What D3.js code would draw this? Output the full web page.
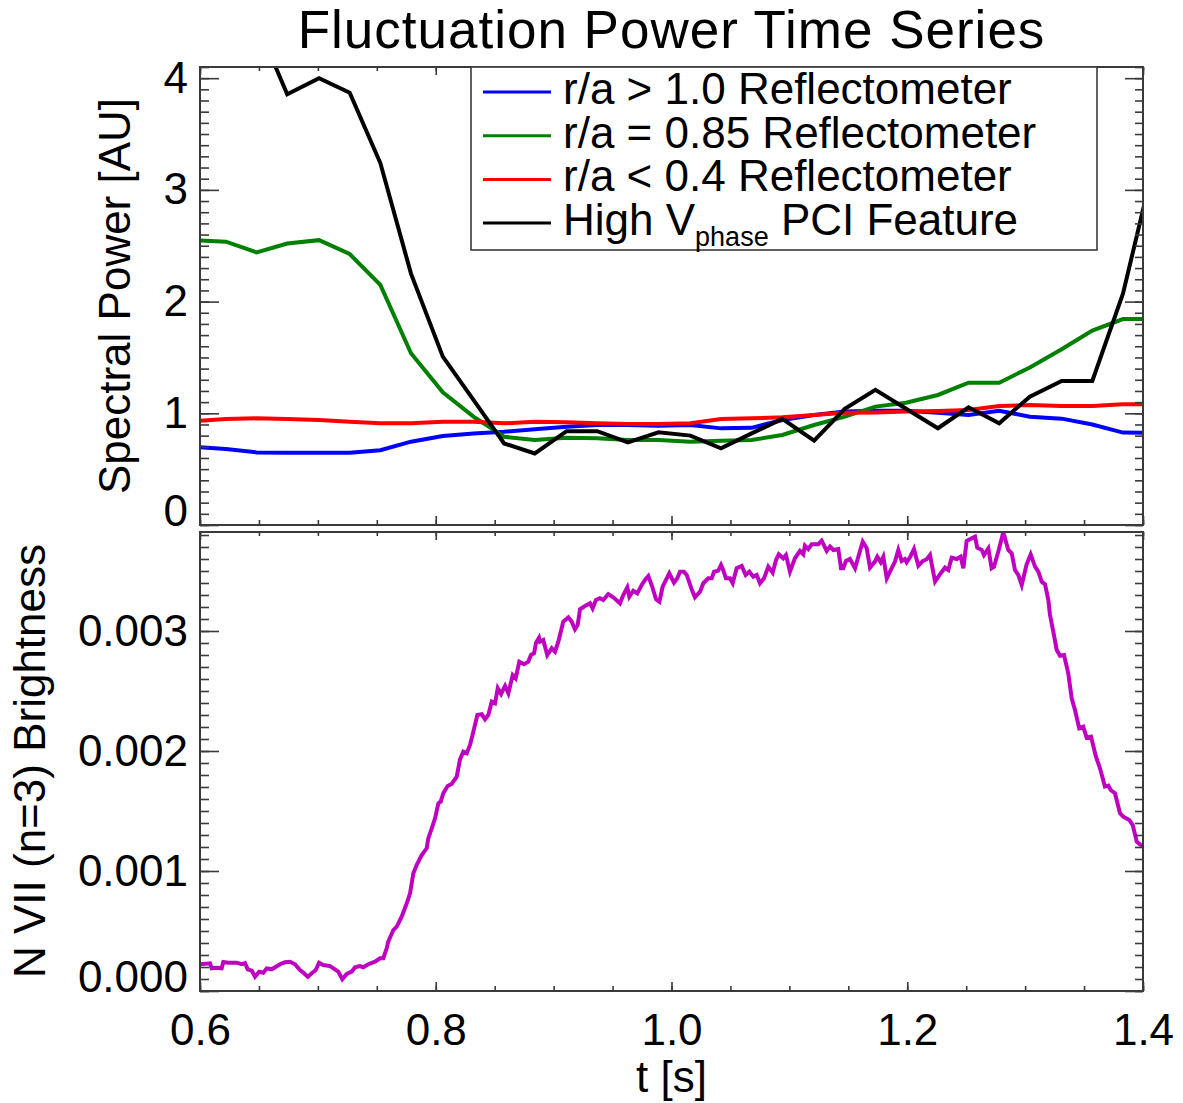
<!DOCTYPE html>
<html>
<head>
<meta charset="utf-8">
<script src="https://d3js.org/d3.v7.min.js"></script>
<style>
  body { margin: 0; background: #fff; }
  text { font-family: "Liberation Sans", Arial, Helvetica, sans-serif; }
</style>
</head>
<body>
<script>
// spectra time base [s]
var times = [0.596, 0.622, 0.648, 0.674, 0.701, 0.727, 0.753, 0.779, 0.806, 0.832,
             0.858, 0.884, 0.911, 0.937, 0.963, 0.989, 1.016, 1.042, 1.068, 1.094,
             1.121, 1.147, 1.173, 1.199, 1.226, 1.252, 1.278, 1.304, 1.331, 1.357,
             1.383, 1.409];

// spectral power [AU]
var reflEdge = [0.70, 0.68, 0.65, 0.647, 0.647, 0.647, 0.67, 0.746, 0.797, 0.82,
                0.835, 0.857, 0.88, 0.895, 0.895, 0.889, 0.895, 0.865, 0.87, 0.94,
                0.985, 1.015, 1.023, 1.023, 1.005, 0.985, 1.023, 0.97, 0.952, 0.90,
                0.827, 0.826];
var reflMid = [2.55, 2.536, 2.44, 2.52, 2.55, 2.426, 2.149, 1.537, 1.188, 0.97,
               0.79, 0.761, 0.78, 0.776, 0.761, 0.761, 0.746, 0.755, 0.761, 0.806,
               0.895, 0.97, 1.06, 1.095, 1.164, 1.274, 1.274, 1.41, 1.573, 1.74,
               1.844, 1.845];
var reflCore = [0.931, 0.949, 0.955, 0.949, 0.94, 0.925, 0.91, 0.91, 0.925, 0.925,
                0.91, 0.925, 0.92, 0.91, 0.904, 0.904, 0.91, 0.949, 0.955, 0.964,
                0.985, 1.005, 1.008, 1.015, 1.02, 1.03, 1.065, 1.074, 1.065, 1.065,
                1.08, 1.083];
var pciHigh = [4.8, 4.7, 4.5, 3.856, 4.0, 3.87, 3.24, 2.25, 1.507, 1.12,
               0.73, 0.64, 0.84, 0.84, 0.74, 0.83, 0.80, 0.687, 0.82, 0.95,
               0.755, 1.04, 1.21, 1.04, 0.866, 1.054, 0.91, 1.149, 1.29, 1.29,
               2.07, 3.22];

var seriesNames = ['r/a > 1.0 Reflectometer', 'r/a = 0.85 Reflectometer', 'r/a < 0.4 Reflectometer', 'High V'];
var seriesColors = ['#0000ff', '#008000', '#ff0000', '#000000'];

// N VII (n=3) brightness trace
var nviiTime = [0.6000, 0.6085, 0.6099, 0.6142, 0.6184, 0.6198, 0.6240, 0.6311, 0.6354, 0.6382,
  0.6405, 0.6439, 0.6467, 0.6503, 0.6537, 0.6566, 0.6608, 0.6679, 0.6721, 0.6764,
  0.6806, 0.6848, 0.6876, 0.6914, 0.6948, 0.6982, 0.7010, 0.7046, 0.7103, 0.7145,
  0.7173, 0.7207, 0.7245, 0.7287, 0.7315, 0.7357, 0.7385, 0.7428, 0.7485, 0.7527,
  0.7555, 0.7584, 0.7597, 0.7640, 0.7669, 0.7711, 0.7754, 0.7782, 0.7810, 0.7838,
  0.7881, 0.7923, 0.7937, 0.7966, 0.7994, 0.8022, 0.8042, 0.8064, 0.8101, 0.8135,
  0.8178, 0.8206, 0.8234, 0.8263, 0.8291, 0.8319, 0.8353, 0.8390, 0.8418, 0.8446,
  0.8475, 0.8503, 0.8526, 0.8554, 0.8588, 0.8616, 0.8653, 0.8678, 0.8709, 0.8749,
  0.8785, 0.8808, 0.8834, 0.8851, 0.8876, 0.8884, 0.8912, 0.8946, 0.8984, 0.9012,
  0.9040, 0.9082, 0.9125, 0.9153, 0.9181, 0.9204, 0.9224, 0.9266, 0.9309, 0.9331,
  0.9359, 0.9393, 0.9421, 0.9464, 0.9506, 0.9563, 0.9591, 0.9625, 0.9642, 0.9676,
  0.9710, 0.9747, 0.9775, 0.9803, 0.9832, 0.9869, 0.9897, 0.9925, 0.9981, 1.0021,
  1.0049, 1.0072, 1.0106, 1.0129, 1.0171, 1.0199, 1.0242, 1.0270, 1.0312, 1.0341,
  1.0361, 1.0397, 1.0420, 1.0439, 1.0462, 1.0496, 1.0519, 1.0553, 1.0596, 1.0629,
  1.0660, 1.0694, 1.0723, 1.0751, 1.0785, 1.0821, 1.0858, 1.0887, 1.0910, 1.0948,
  1.0971, 1.1005, 1.1047, 1.1090, 1.1118, 1.1132, 1.1160, 1.1189, 1.1245, 1.1274,
  1.1317, 1.1345, 1.1373, 1.1415, 1.1438, 1.1457, 1.1480, 1.1514, 1.1557, 1.1585,
  1.1622, 1.1656, 1.1684, 1.1726, 1.1746, 1.1775, 1.1797, 1.1826, 1.1860, 1.1896,
  1.1924, 1.1953, 1.1981, 1.1995, 1.2023, 1.2057, 1.2094, 1.2131, 1.2165, 1.2193,
  1.2236, 1.2278, 1.2320, 1.2348, 1.2377, 1.2420, 1.2453, 1.2476, 1.2504, 1.2547,
  1.2575, 1.2594, 1.2632, 1.2651, 1.2688, 1.2716, 1.2736, 1.2772, 1.2815, 1.2857,
  1.2886, 1.2914, 1.2942, 1.2971, 1.3013, 1.3047, 1.3084, 1.3112, 1.3141, 1.3169,
  1.3197, 1.3211, 1.3239, 1.3268, 1.3296, 1.3330, 1.3366, 1.3395, 1.3423, 1.3459,
  1.3493, 1.3522, 1.3559, 1.3601, 1.3635, 1.3677, 1.3706, 1.3726, 1.3762, 1.3805,
  1.3833, 1.3884, 1.3913, 1.3947, 1.3998];
var nviiBright = [0.000223, 0.000231, 0.000189, 0.000194, 0.000189, 0.000242, 0.000236, 0.000236, 0.000223, 0.000231,
  0.000181, 0.000169, 0.000119, 0.000161, 0.000153, 0.000189, 0.000181, 0.000223, 0.000239, 0.000244,
  0.000223, 0.000175, 0.000153, 0.000119, 0.000148, 0.000175, 0.000236, 0.000217, 0.000208, 0.000181,
  0.000161, 0.000098, 0.000142, 0.000161, 0.000198, 0.000208, 0.000198, 0.000223, 0.000244, 0.000273,
  0.000273, 0.000356, 0.000411, 0.000508, 0.000536, 0.000619, 0.000731, 0.000814, 0.000981, 0.001050,
  0.001133, 0.001189, 0.001273, 0.001356, 0.001439, 0.001564, 0.001578, 0.001648, 0.001708, 0.001725,
  0.001786, 0.001931, 0.001994, 0.001981, 0.002050, 0.002161, 0.002300, 0.002306, 0.002264, 0.002300,
  0.002411, 0.002398, 0.002523, 0.002475, 0.002542, 0.002481, 0.002633, 0.002606, 0.002744, 0.002723,
  0.002744, 0.002800, 0.002814, 0.002903, 0.002944, 0.002911, 0.002925, 0.002800, 0.002856, 0.002828,
  0.002911, 0.003078, 0.003114, 0.003078, 0.003014, 0.003050, 0.003181, 0.003208, 0.003231, 0.003189,
  0.003258, 0.003273, 0.003258, 0.003308, 0.003281, 0.003231, 0.003300, 0.003364, 0.003286, 0.003336,
  0.003314, 0.003383, 0.003425, 0.003458, 0.003383, 0.003264, 0.003244, 0.003369, 0.003481, 0.003403,
  0.003439, 0.003494, 0.003494, 0.003467, 0.003348, 0.003281, 0.003328, 0.003398, 0.003439, 0.003439,
  0.003494, 0.003503, 0.003550, 0.003508, 0.003439, 0.003439, 0.003398, 0.003523, 0.003542, 0.003467,
  0.003494, 0.003453, 0.003467, 0.003398, 0.003439, 0.003536, 0.003486, 0.003592, 0.003640, 0.003606,
  0.003633, 0.003494, 0.003606, 0.003667, 0.003639, 0.003711, 0.003683, 0.003723, 0.003723, 0.003753,
  0.003667, 0.003703, 0.003675, 0.003683, 0.003523, 0.003523, 0.003583, 0.003600, 0.003523, 0.003619,
  0.003744, 0.003689, 0.003528, 0.003578, 0.003619, 0.003573, 0.003619, 0.003439, 0.003508, 0.003578,
  0.003675, 0.003583, 0.003600, 0.003573, 0.003614, 0.003683, 0.003544, 0.003583, 0.003598, 0.003633,
  0.003411, 0.003473, 0.003528, 0.003508, 0.003611, 0.003600, 0.003619, 0.003523, 0.003750, 0.003773,
  0.003786, 0.003694, 0.003675, 0.003633, 0.003689, 0.003523, 0.003536, 0.003661, 0.003823, 0.003675,
  0.003648, 0.003508, 0.003467, 0.003383, 0.003556, 0.003639, 0.003536, 0.003494, 0.003411, 0.003389,
  0.003258, 0.003133, 0.002994, 0.002842, 0.002794, 0.002800, 0.002648, 0.002439, 0.002342, 0.002189,
  0.002203, 0.002111, 0.002119, 0.001953, 0.001856, 0.001703, 0.001711, 0.001675, 0.001648, 0.001481,
  0.001453, 0.001425, 0.001383, 0.001244, 0.001203];

var xTicks = [0.6, 0.8, 1.0, 1.2, 1.4];
var powerTicks = [0, 1, 2, 3, 4];
var brightTicks = [0, 0.001, 0.002, 0.003];

var w = 1183, h = 1103,
    svg = d3.select('body').append('svg').attr('width', w).attr('height', h);

var left = 200, right = 1143;
var x = d3.scaleLinear().domain([0.6, 1.4]).range([left, right]);
var yTop = d3.scaleLinear().domain([0, 4.1]).range([525, 67]);
var yBot = d3.scaleLinear().domain([0, 0.003825]).range([991, 532]);

var axisColor = '#3a3a3a';

function styleAxis(g) {
  g.select('.domain').remove();
  g.selectAll('line').attr('stroke', axisColor).attr('stroke-width', 1.6);
  g.selectAll('text').attr('font-size', 44).attr('fill', '#000')
    .attr('font-family', '"Liberation Sans", Arial, Helvetica, sans-serif');
}

// one box with IDL style ticks on all four sides
function panel(y, yMajor, yMinor, yFmt, xLabels) {
  var y0 = y.range()[0], y1 = y.range()[1];
  var xMinor = d3.range(0.6, 1.4001, 0.05);

  svg.append('g').attr('transform', 'translate(' + left + ',0)')
    .call(d3.axisLeft(y).tickValues(yMinor).tickSizeInner(-9).tickSizeOuter(0).tickFormat(''))
    .call(styleAxis);
  var gl = svg.append('g').attr('transform', 'translate(' + left + ',0)')
    .call(d3.axisLeft(y).tickValues(yMajor).tickSizeInner(-19).tickSizeOuter(0).tickPadding(12).tickFormat(yFmt))
    .call(styleAxis);
  // lowest label sits a bit above its tick
  gl.selectAll('.tick text').filter(function(d){ return d === 0; }).attr('y', -14);

  svg.append('g').attr('transform', 'translate(' + right + ',0)')
    .call(d3.axisRight(y).tickValues(yMinor).tickSizeInner(-8).tickSizeOuter(0).tickFormat(''))
    .call(styleAxis);
  svg.append('g').attr('transform', 'translate(' + right + ',0)')
    .call(d3.axisRight(y).tickValues(yMajor).tickSizeInner(-18).tickSizeOuter(0).tickFormat(''))
    .call(styleAxis);

  svg.append('g').attr('transform', 'translate(0,' + y1 + ')')
    .call(d3.axisTop(x).tickValues(xMinor).tickSizeInner(-4).tickSizeOuter(0).tickFormat(''))
    .call(styleAxis);
  svg.append('g').attr('transform', 'translate(0,' + y1 + ')')
    .call(d3.axisTop(x).tickValues(xTicks).tickSizeInner(-8).tickSizeOuter(0).tickFormat(''))
    .call(styleAxis);

  svg.append('g').attr('transform', 'translate(0,' + y0 + ')')
    .call(d3.axisBottom(x).tickValues(xMinor).tickSizeInner(-5).tickSizeOuter(0).tickFormat(''))
    .call(styleAxis);
  svg.append('g').attr('transform', 'translate(0,' + y0 + ')')
    .call(d3.axisBottom(x).tickValues(xTicks).tickSizeInner(-9).tickSizeOuter(0).tickPadding(23)
      .tickFormat(xLabels ? d3.format('.1f') : ''))
    .call(styleAxis);

  svg.append('rect')
    .attr('x', left).attr('y', y1)
    .attr('width', right - left).attr('height', y0 - y1)
    .attr('fill', 'none').attr('stroke', axisColor).attr('stroke-width', 2);
}

// clip areas
var defs = svg.append('defs');
defs.append('clipPath').attr('id', 'clipTop').append('rect')
  .attr('x', left).attr('y', 67).attr('width', right - left).attr('height', 525 - 67);
defs.append('clipPath').attr('id', 'clipBot').append('rect')
  .attr('x', left).attr('y', 532).attr('width', right - left).attr('height', 991 - 532);

// top panel lines
var topLine = d3.line().x(function(d){ return x(d[0]); }).y(function(d){ return yTop(d[1]); });
var topSeries = [reflEdge, reflMid, reflCore, pciHigh];
svg.append('g').attr('clip-path', 'url(#clipTop)')
  .selectAll('path')
  .data(topSeries)
  .enter()
  .append('path')
  .attr('d', function(d){ return topLine(d3.zip(times, d)); })
  .attr('fill', 'none')
  .attr('stroke', function(d, i){ return seriesColors[i]; })
  .attr('stroke-width', 4);

// bottom panel trace
var botLine = d3.line().x(function(d){ return x(d[0]); }).y(function(d){ return yBot(d[1]); });
svg.append('g').attr('clip-path', 'url(#clipBot)')
  .append('path')
  .attr('d', botLine(d3.zip(nviiTime, nviiBright)))
  .attr('fill', 'none')
  .attr('stroke', '#c000c0')
  .attr('stroke-width', 4);

panel(yTop, powerTicks, d3.range(0, 4.101, 0.1), d3.format('d'), false);
panel(yBot, brightTicks, d3.range(0, 0.00381, 0.0001), d3.format('.3f'), true);

// legend
var leg = svg.append('g');
leg.append('rect')
  .attr('x', 471).attr('y', 67).attr('width', 626).attr('height', 183)
  .attr('fill', '#fff').attr('stroke', axisColor).attr('stroke-width', 1.6);
var rowY = function(i){ return 104 + i * 43.7; };
leg.selectAll('line.key')
  .data(seriesNames)
  .enter()
  .append('line')
  .attr('class', 'key')
  .attr('x1', 483).attr('x2', 551)
  .attr('y1', function(d, i){ return rowY(i) - 12; })
  .attr('y2', function(d, i){ return rowY(i) - 12; })
  .attr('stroke', function(d, i){ return seriesColors[i]; })
  .attr('stroke-width', 3);
var lt = leg.selectAll('text.key')
  .data(seriesNames)
  .enter()
  .append('text')
  .attr('class', 'key')
  .attr('x', 563)
  .attr('y', function(d, i){ return rowY(i); })
  .attr('font-size', 44)
  .text(function(d){ return d; });
// subscript on the last entry
var last = lt.filter(function(d, i){ return i === 3; });
last.append('tspan').attr('font-size', 27).attr('dy', 11).text('phase');
last.append('tspan').attr('font-size', 44).attr('dy', -11).text(' PCI Feature');

// titles
svg.append('text')
  .attr('x', (left + right) / 2).attr('y', 48)
  .attr('text-anchor', 'middle').attr('font-size', 53)
  .attr('letter-spacing', 1)
  .text('Fluctuation Power Time Series');

svg.append('text')
  .attr('transform', 'translate(130,296) rotate(-90)')
  .attr('text-anchor', 'middle').attr('font-size', 44)
  .text('Spectral Power [AU]');

svg.append('text')
  .attr('transform', 'translate(45,761) rotate(-90)')
  .attr('text-anchor', 'middle').attr('font-size', 44)
  .text('N VII (n=3) Brightness');

svg.append('text')
  .attr('x', (left + right) / 2).attr('y', 1092)
  .attr('text-anchor', 'middle').attr('font-size', 44)
  .text('t [s]');
</script>
</body>
</html>
